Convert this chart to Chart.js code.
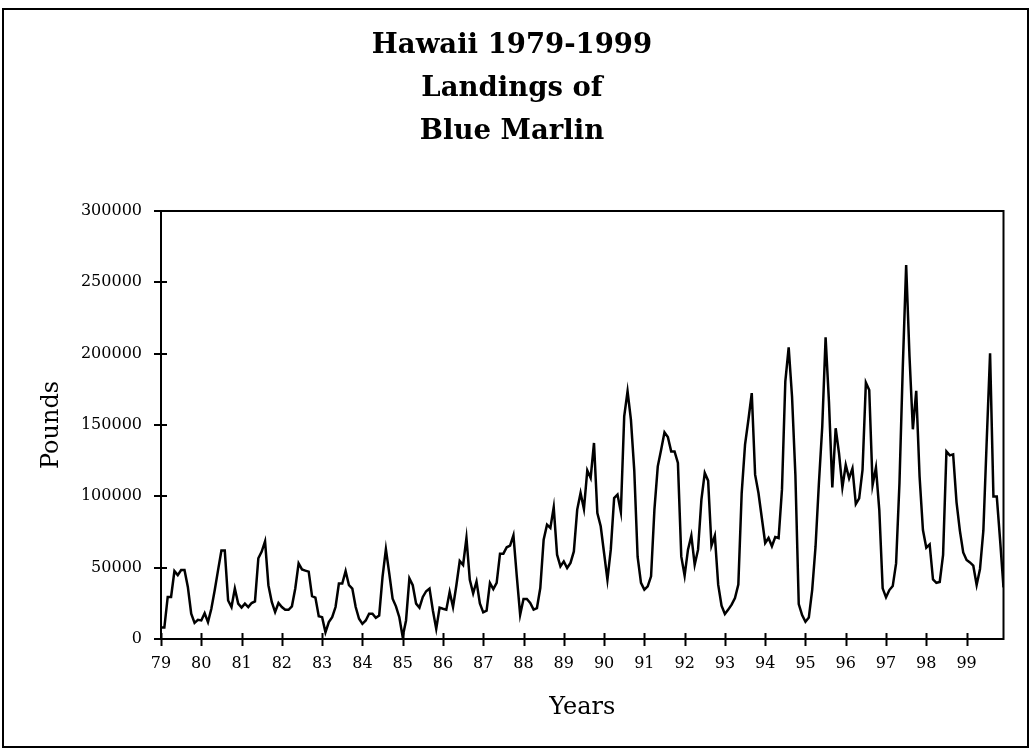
<!DOCTYPE html>
<html><head><meta charset="utf-8">
<script src="https://cdn.jsdelivr.net/npm/chart.js@4.4.1/dist/chart.umd.min.js"></script>
<style>
html,body{margin:0;padding:0;background:#fff;}
#frame{position:absolute;left:2px;top:8px;width:1023px;height:736px;border:2px solid #000;}
#wrap{position:absolute;left:0;top:0;width:1031px;height:750px;}
</style></head><body>
<div id="frame"></div>
<div id="wrap"><canvas id="c" width="1031" height="750"></canvas></div>
<script>
const titleLines = ['Hawaii 1979-1999', 'Landings of', 'Blue Marlin'];
const yearLabels = ['79','80','81','82','83','84','85','86','87','88','89','90','91','92','93','94','95','96','97','98','99'];
const yTicks = [0, 50000, 100000, 150000, 200000, 250000, 300000];
// Monthly landings (pounds), Jan 1979 .. Dec 1999
const pounds = [
  8000, 8000, 29500, 29500, 47600, 44800, 48300, 48300, 36500, 17700, 11300, 13400,
  13000, 18000, 11800, 21200, 34200, 48300, 62000, 62000, 27000, 22400, 35400, 24800,
  22000, 24800, 22400, 25200, 26400, 56600, 61300, 68400, 37700, 26000, 18900, 25200,
  22400, 20500, 20500, 22900, 35400, 53000, 48800, 47900, 47200, 30000, 29000, 16000,
  15300, 4700, 11800, 15300, 22400, 38900, 38900, 47600, 37700, 35400, 22400, 14200,
  10600, 13000, 17700, 17700, 14900, 16500, 43600, 63000, 46000, 28300, 22900, 15300,
  1500, 13000, 42500, 37700, 24800, 22000, 29500, 33500, 35400, 20000, 7100, 22000,
  21200, 20500, 33000, 22400, 37700, 54700, 51900, 70800, 41500, 32000, 40300, 25000,
  18700, 19900, 39300, 35000, 39300, 59800, 59800, 64300, 65400, 72700, 43900, 17000,
  28000, 28000, 25200, 20600, 21700, 35700, 69600, 80100, 77800, 92300, 59100, 50900,
  54400, 49800, 53300, 61400, 90700, 102300, 91100, 118200, 112900, 137400, 88300, 79000,
  60300, 41600, 62600, 98800, 101200, 89000, 156000, 173600, 153700, 118000, 57500, 39300,
  34600, 36900, 43900, 90700, 121000, 132700, 144900, 141600, 131500, 131500, 123400, 57900,
  44400, 62600, 72400, 52100, 62600, 97700, 116400, 111000, 65400, 72400, 38100, 23400,
  17500, 20600, 24100, 28700, 38100, 102300, 136200, 153700, 172400, 115200, 102300, 84800,
  67300, 70800, 65000, 71500, 70800, 104700, 180600, 204400, 170000, 115000, 24500, 16800,
  12100, 15000, 34300, 64700, 109000, 148800, 211400, 166400, 106300, 147700, 130100, 106300,
  122000, 112600, 119600, 94600, 98600, 118500, 179700, 174500, 107900, 120100, 90400, 35500,
  29200, 34300, 37100, 53000, 109000, 190900, 262100, 197900, 147000, 174000, 113800, 76400,
  64000, 66300, 41700, 39400, 40000, 59000, 131400, 128700, 129400, 96000, 76000, 60700,
  55400, 53700, 51400, 37900, 49100, 75900, 139000, 200200, 99800, 99800, 68900, 36200
];

const serif = 'DejaVu Serif';

const frameTicks = {
  id: 'frameTicks',
  afterDraw(chart) {
    const {ctx, chartArea: a, scales: {x, y}} = chart;
    ctx.save();
    ctx.strokeStyle = '#000';
    ctx.lineWidth = 2;
    ctx.strokeRect(a.left, a.top, a.right - a.left, a.bottom - a.top);
    ctx.beginPath();
    x.ticks.forEach(t => {
      const px = Math.round(x.getPixelForValue(t.value)) + 0.5;
      ctx.moveTo(px, a.bottom - 6);
      ctx.lineTo(px, a.bottom + 7);
    });
    y.ticks.forEach(t => {
      const py = Math.round(y.getPixelForValue(t.value));
      ctx.moveTo(a.left - 7, py);
      ctx.lineTo(a.left + 6, py);
    });
    ctx.stroke();
    ctx.restore();
  }
};

new Chart(document.getElementById('c'), {
  type: 'line',
  data: {
    datasets: [{
      data: pounds.map((v, i) => ({x: i, y: v})),
      borderColor: '#000',
      borderWidth: 2.5,
      pointRadius: 0,
      tension: 0,
      fill: false,
      yAxisID: 'y'
    }]
  },
  options: {
    responsive: false,
    animation: false,
    devicePixelRatio: 1,
    layout: {padding: {top: 0, left: 0, right: 7, bottom: 0}},
    plugins: {
      legend: {display: false},
      tooltip: {enabled: false},
      title: {
        display: true,
        text: titleLines,
        color: '#000',
        font: {family: serif, size: 27.5, weight: 'bold', lineHeight: 1.5636},
        padding: {top: 24.5, bottom: 57.5}
      }
    },
    scales: {
      x: {
        type: 'linear',
        min: 0,
        max: pounds.length - 1,
        afterBuildTicks: s => { s.ticks = yearLabels.map((_, i) => ({value: i * 12})); },
        afterFit: s => { s.height = 111; },
        grid: {display: false, drawTicks: false},
        border: {display: false},
        ticks: {
          callback: v => yearLabels[Math.round(v / 12)],
          color: '#000',
          font: {family: serif, size: 16},
          padding: 15,
          maxRotation: 0,
          autoSkip: false
        },
        title: {
          display: true,
          text: 'Years',
          color: '#000',
          font: {family: serif, size: 24, lineHeight: 1.2},
          padding: {top: 0, bottom: 28}
        }
      },
      y: {
        min: 0,
        max: 300000,
        afterBuildTicks: s => { s.ticks = yTicks.map(v => ({value: v})); },
        afterFit: s => { s.width = 161; },
        grid: {display: false, drawTicks: false},
        border: {display: false},
        ticks: {
          callback: v => String(v),
          color: '#000',
          font: {family: serif, size: 16},
          padding: 19
        },
        title: {
          display: true,
          text: 'Pounds',
          color: '#000',
          font: {family: serif, size: 24, lineHeight: 1.2},
          padding: {top: 37, bottom: 0}
        }
      },
      yRight: {
        position: 'right',
        min: 0,
        max: 300000,
        afterFit: s => { s.width = 20.5; },
        grid: {display: false, drawTicks: false},
        border: {display: false},
        ticks: {display: false}
      }
    }
  },
  plugins: [frameTicks]
});
</script>
</body></html>
